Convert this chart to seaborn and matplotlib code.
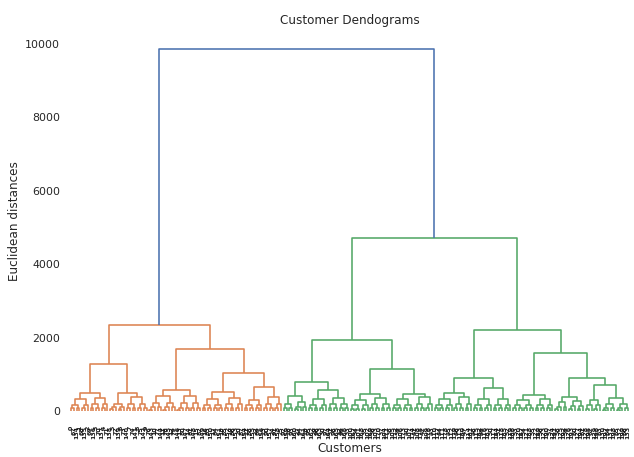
import matplotlib
matplotlib.use("Agg")
import matplotlib.pyplot as plt
import seaborn as sns

# ---- data ----
# terminal (bottom) clusters, left to right: number of customers in each
cluster_sizes = [7, 7, 6, 8, 10, 9, 8, 7, 7, 7,
                 4, 5, 7, 8, 7, 8, 8, 7, 7, 7, 7, 7, 8, 7, 5, 6, 6, 10]
# merge heights inside each terminal cluster, by level (top first)
cluster_levels = [
    [330, 160, 70, 25], [350, 190, 80, 30], [200, 110, 50, 20], [380, 200, 90, 35],
    [400, 210, 100, 40], [420, 220, 90, 35], [330, 170, 80, 30], [360, 180, 75, 30],
    [300, 150, 70, 25], [380, 190, 80, 30],
    [180, 90, 40, 15], [250, 120, 50, 20], [330, 170, 70, 25], [345, 180, 80, 30],
    [300, 150, 65, 25], [360, 180, 80, 30], [330, 170, 75, 30], [380, 190, 80, 30],
    [340, 170, 70, 25], [380, 190, 80, 30], [330, 160, 70, 25], [326, 170, 75, 30],
    [300, 150, 70, 25], [340, 170, 75, 30], [250, 120, 50, 20], [280, 140, 60, 25],
    [300, 150, 65, 25], [345, 190, 90, 35],
]
# upper merges (linkage style): ids 0..27 are the terminal clusters, 28+ new nodes
merge_a = [0, 2, 28, 4, 6, 8, 32, 31, 30,
           10, 12, 37, 14, 16, 40, 39, 18, 20, 44, 22, 24, 26, 48, 47, 46, 43, 36]
merge_b = [1, 3, 29, 5, 7, 9, 33, 34, 35,
           11, 13, 38, 15, 17, 41, 42, 19, 21, 45, 23, 25, 27, 49, 50, 51, 52, 53]
merge_h = [481, 497, 1280, 571, 510, 660, 1030, 1690, 2337,
           416, 570, 780, 455, 470, 1140, 1929, 497, 634, 906, 435, 372, 706, 906,
           1567, 2201, 4701, 9864]

n_leaves = sum(cluster_sizes)
# leaf labels are unreadable in the picture (a solid band of customer ids in
# dendrogram order); use a mixed order of the 200 customer ids
leaf_labels = [str((i * 67) % n_leaves) for i in range(n_leaves)]

# ---- style ----
sns.set_theme(style="white", context="notebook")
palette = sns.color_palette("deep")

fig = plt.figure(figsize=(634 / 72, 457 / 72), dpi=72)
ax = fig.add_axes([69.6 / 634, 46 / 457, 559.8 / 634, 380.6 / 457])

segments = []  # (xs, ys, node_height)


def build_cluster(start, n, levels, depth):
    """Return x position and height of a sub-cluster of n leaves starting at start."""
    if n == 1:
        return 5 + 10 * start, 0.0
    nl = (n + 1) // 2
    xl, hl = build_cluster(start, nl, levels, depth + 1)
    xr, hr = build_cluster(start + nl, n - nl, levels, depth + 1)
    h = levels[min(depth, len(levels) - 1)]
    segments.append(([xl, xl, xr, xr], [hl, h, h, hr], h))
    return (xl + xr) / 2, h


# terminal clusters
node_pos = {}
node_segs = {}
start = 0
for cid, (n, lv) in enumerate(zip(cluster_sizes, cluster_levels)):
    before = len(segments)
    node_pos[cid] = build_cluster(start, n, lv, 0)
    node_segs[cid] = list(range(before, len(segments)))
    start += n

# upper merges
children = {}
nid = len(cluster_sizes)
for a, b, h in zip(merge_a, merge_b, merge_h):
    xa, ha = node_pos[a]
    xb, hb = node_pos[b]
    segments.append(([xa, xa, xb, xb], [ha, h, h, hb], h))
    node_segs[nid] = [len(segments) - 1]
    node_pos[nid] = ((xa + xb) / 2, h)
    children[nid] = (a, b)
    nid += 1
root = nid - 1

# colouring like scipy: below 0.7*max -> one colour per cluster
threshold = 0.7 * max(merge_h)
seg_color = {}
color_cycle = iter([palette[1], palette[2], palette[3], palette[4]])


def all_segs(node):
    out = list(node_segs[node])
    if node in children:
        for c in children[node]:
            out += all_segs(c)
    return out


def colour(node):
    h = node_pos[node][1]
    if h < threshold:
        col = next(color_cycle)
        for s in all_segs(node):
            seg_color[s] = col
    else:
        for s in node_segs[node]:
            seg_color[s] = palette[0]
        for c in children.get(node, ()):
            colour(c)


colour(root)

for i, (xs, ys, h) in enumerate(segments):
    ax.plot(xs, ys, color=seg_color[i], lw=1.6, solid_capstyle="butt")

ax.set_xlim(0, n_leaves * 10)
ax.set_ylim(0, max(merge_h) * 1.05)
ax.set_xticks([5 + 10 * i for i in range(n_leaves)])
ax.set_xticklabels(leaf_labels, rotation=90, fontsize=6.2, color="0.1",
                   fontweight="bold")
ax.set_yticks([0, 2000, 4000, 6000, 8000, 10000])
for sp in ax.spines.values():
    sp.set_visible(False)
ax.tick_params(axis="x", pad=9)

ax.set_title("Customer Dendograms")
ax.set_xlabel("Customers", labelpad=3)
ax.set_ylabel("Euclidean distances")

fig.savefig("out.png", dpi=72)
